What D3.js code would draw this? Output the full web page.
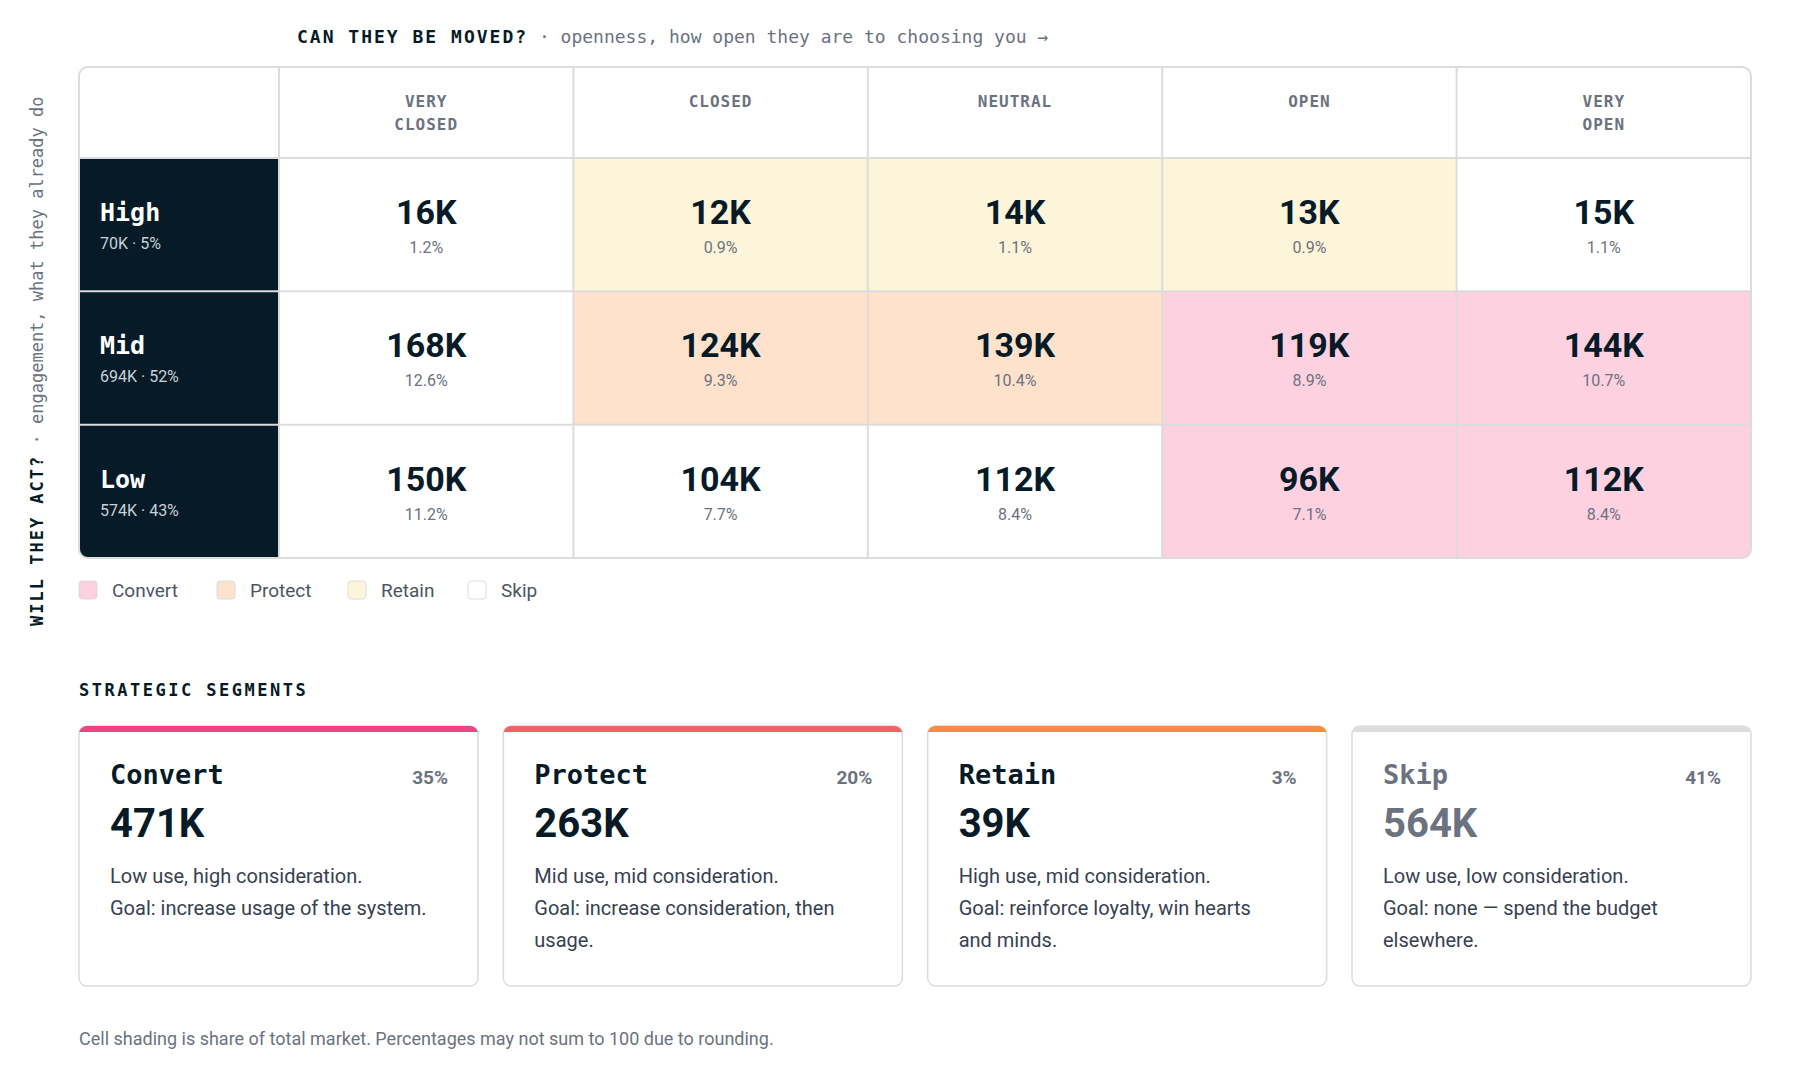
<html>
<head>
<script src="https://d3js.org/d3.v7.min.js"></script>
<style>
  body { margin:0; background:#fff; }
</style>
</head>
<body>
<svg id="chart" width="1797" height="1068"></svg>
<script>
const cols = ["VERY CLOSED", "CLOSED", "NEUTRAL", "OPEN", "VERY OPEN"];
const rows = ["High", "Mid", "Low"];
const rowTotals = ["70K · 5%", "694K · 52%", "574K · 43%"];
const values = [[16, 12, 14, 13, 15], [168, 124, 139, 119, 144], [150, 104, 112, 96, 112]];
const pcts = [[1.2, 0.9, 1.1, 0.9, 1.1], [12.6, 9.3, 10.4, 8.9, 10.7], [11.2, 7.7, 8.4, 7.1, 8.4]];
const segOf = [["Skip", "Retain", "Retain", "Retain", "Skip"],
               ["Skip", "Protect", "Protect", "Convert", "Convert"],
               ["Skip", "Skip", "Skip", "Convert", "Convert"]];
const segments = ["Convert", "Protect", "Retain", "Skip"];
const segTotals = [471, 263, 39, 564];
const segShares = [35, 20, 3, 41];
const segText = [
  ["Low use, high consideration.", "Goal: increase usage of the system."],
  ["Mid use, mid consideration.", "Goal: increase consideration, then", "usage."],
  ["High use, mid consideration.", "Goal: reinforce loyalty, win hearts", "and minds."],
  ["Low use, low consideration.", "Goal: none — spend the budget", "elsewhere."]
];

const fill = d3.scaleOrdinal().domain(segments).range(["#fdd1e0", "#fee2cc", "#fdf5da", "#ffffff"]);
const bar = d3.scaleOrdinal().domain(segments).range(["#ef4483", "#f26464", "#fb8a47", "#dddddd"]);

const mono = "'DejaVu Sans Mono', monospace";
const cond = "'Liberation Sans Narrow', 'Roboto', sans-serif";
const sans = "'Roboto', 'Open Sans', sans-serif";
const dark = "#061b27";

const svg = d3.select("#chart");

// grid geometry
const gx0 = 79, gx1 = 1751, gy0 = 67, headH = 91, gy1 = 558, labelW = 200;
const x = d3.scaleBand().domain(cols).range([gx0 + labelW, gx1]);
const y = d3.scaleBand().domain(rows).range([gy0 + headH, gy1]);

svg.append("clipPath").attr("id", "gclip")
  .append("rect").attr("x", gx0).attr("y", gy0).attr("width", gx1 - gx0).attr("height", gy1 - gy0).attr("rx", 9);

const g = svg.append("g").attr("clip-path", "url(#gclip)");

// titles
svg.append("text").attr("x", 297).attr("y", 43)
  .style("font-family", mono).style("font-size", "18px")
  .call(t => {
    t.append("tspan").text("CAN THEY BE MOVED?").style("font-weight", "bold").style("letter-spacing", "2px").attr("fill", dark);
    t.append("tspan").text("  ·  openness, how open they are to choosing you   →").attr("fill", "#6b7280");
  });

svg.append("text").attr("transform", "translate(43,626) rotate(-90)")
  .style("font-family", mono).style("font-size", "17px")
  .call(t => {
    t.append("tspan").text("WILL THEY ACT?").style("font-weight", "bold").style("letter-spacing", "2px").attr("fill", dark);
    t.append("tspan").text("  ·  engagement, what they already do").attr("fill", "#6b7280");
  });

// cells
const cells = [];
rows.forEach((r, i) => cols.forEach((c, j) => cells.push({r, c, v: values[i][j], p: pcts[i][j], s: segOf[i][j]})));

g.selectAll("rect.cell").data(cells).join("rect")
  .attr("class", "cell")
  .attr("x", d => x(d.c)).attr("y", d => y(d.r))
  .attr("width", x.bandwidth()).attr("height", y.bandwidth())
  .attr("fill", d => fill(d.s));

g.selectAll("rect.rowlab").data(rows).join("rect")
  .attr("x", gx0).attr("y", d => y(d)).attr("width", labelW).attr("height", y.bandwidth())
  .attr("fill", dark);

// grid lines
const lines = g.append("g").attr("stroke", "#dcdcdc").attr("stroke-width", 2);
x.domain().forEach(c => lines.append("line").attr("x1", x(c)).attr("x2", x(c)).attr("y1", gy0).attr("y2", gy1));
[gy0 + headH, y("Mid"), y("Low")].forEach(v => lines.append("line").attr("x1", gx0).attr("x2", gx1).attr("y1", v).attr("y2", v));
svg.append("rect").attr("x", gx0).attr("y", gy0).attr("width", gx1 - gx0).attr("height", gy1 - gy0).attr("rx", 9)
  .attr("fill", "none").attr("stroke", "#dcdcdc").attr("stroke-width", 2);

// column headers
svg.selectAll("text.colh").data(cols).join("text")
  .attr("class", "colh")
  .attr("text-anchor", "middle")
  .style("font-family", mono).style("font-weight", "bold").style("font-size", "16px").style("letter-spacing", "1px")
  .attr("fill", "#6b7280")
  .each(function(d) {
    const parts = d.startsWith("VERY") ? d.split(" ") : [d];
    parts.forEach((p, k) => d3.select(this).append("tspan")
      .attr("x", x(d) + x.bandwidth() / 2).attr("y", gy0 + 40 + k * 23).text(p));
  });

// row labels
rows.forEach((r, i) => {
  svg.append("text").attr("x", gx0 + 21).attr("y", y(r) + 63).text(r)
    .style("font-family", mono).style("font-weight", "bold").style("font-size", "25px").attr("fill", "#fff");
  svg.append("text").attr("x", gx0 + 21).attr("y", y(r) + 91).text(rowTotals[i])
    .style("font-family", sans).style("font-size", "16px").attr("fill", "#c9d1d9");
});

// cell values
svg.selectAll("text.val").data(cells).join("text")
  .attr("class", "val").attr("text-anchor", "middle")
  .attr("x", d => x(d.c) + x.bandwidth() / 2).attr("y", d => y(d.r) + 66)
  .style("font-family", cond).style("font-weight", "bold").style("font-size", "34px").attr("fill", dark)
  .text(d => d.v + "K");
svg.selectAll("text.pct").data(cells).join("text")
  .attr("class", "pct").attr("text-anchor", "middle")
  .attr("x", d => x(d.c) + x.bandwidth() / 2).attr("y", d => y(d.r) + 95)
  .style("font-family", sans).style("font-size", "16px").attr("fill", "#6b7280")
  .text(d => d.p + "%");

// legend
const legX = [79, 217, 348, 468];
segments.forEach((s, i) => {
  svg.append("rect").attr("x", legX[i]).attr("y", 581).attr("width", 18).attr("height", 18).attr("rx", 3)
    .attr("fill", fill(s)).attr("stroke", "#dcdcdc");
  svg.append("text").attr("x", legX[i] + 33).attr("y", 597).text(s)
    .style("font-family", sans).style("font-size", "19px").attr("fill", "#4b5563");
});

// strategic segments
svg.append("text").attr("x", 79).attr("y", 696).text("STRATEGIC SEGMENTS")
  .style("font-family", mono).style("font-weight", "bold").style("font-size", "17px").style("letter-spacing", "2.5px")
  .attr("fill", dark);

const cx = d3.scaleBand().domain(segments).range([79, 1776]).paddingInner(0.06).paddingOuter(0);
const cw = 399, cTop = 726, cH = 260;
segments.forEach((s, i) => {
  const left = 79 + i * ((1751 - 79 - cw) / 3);
  const card = svg.append("g").attr("transform", `translate(${left},${cTop})`);
  card.append("clipPath").attr("id", "cc" + i)
    .append("rect").attr("width", cw).attr("height", cH).attr("rx", 8);
  card.append("rect").attr("width", cw).attr("height", cH).attr("rx", 8)
    .attr("fill", "#fff").attr("stroke", "#dcdcdc").attr("stroke-width", 1.5);
  card.append("rect").attr("width", cw).attr("height", 6).attr("fill", bar(s)).attr("clip-path", `url(#cc${i})`);
  const col = s === "Skip" ? "#6b7280" : dark;
  card.append("text").attr("x", 31).attr("y", 58).text(s)
    .style("font-family", mono).style("font-weight", "bold").style("font-size", "27px").attr("fill", col);
  card.append("text").attr("x", cw - 30).attr("y", 58).attr("text-anchor", "end").text(segShares[i] + "%")
    .style("font-family", cond).style("font-weight", "bold").style("font-size", "19px").attr("fill", "#6b7280");
  card.append("text").attr("x", 31).attr("y", 111).text(segTotals[i] + "K")
    .style("font-family", cond).style("font-weight", "bold").style("font-size", "40px").attr("fill", col);
  segText[i].forEach((line, k) => card.append("text").attr("x", 31).attr("y", 157 + k * 32).text(line)
    .style("font-family", sans).style("font-size", "20px").attr("fill", "#374151"));
});

svg.append("text").attr("x", 79).attr("y", 1045)
  .text("Cell shading is share of total market. Percentages may not sum to 100 due to rounding.")
  .style("font-family", sans).style("font-size", "18px").attr("fill", "#6b7280");
</script>
</body>
</html>
